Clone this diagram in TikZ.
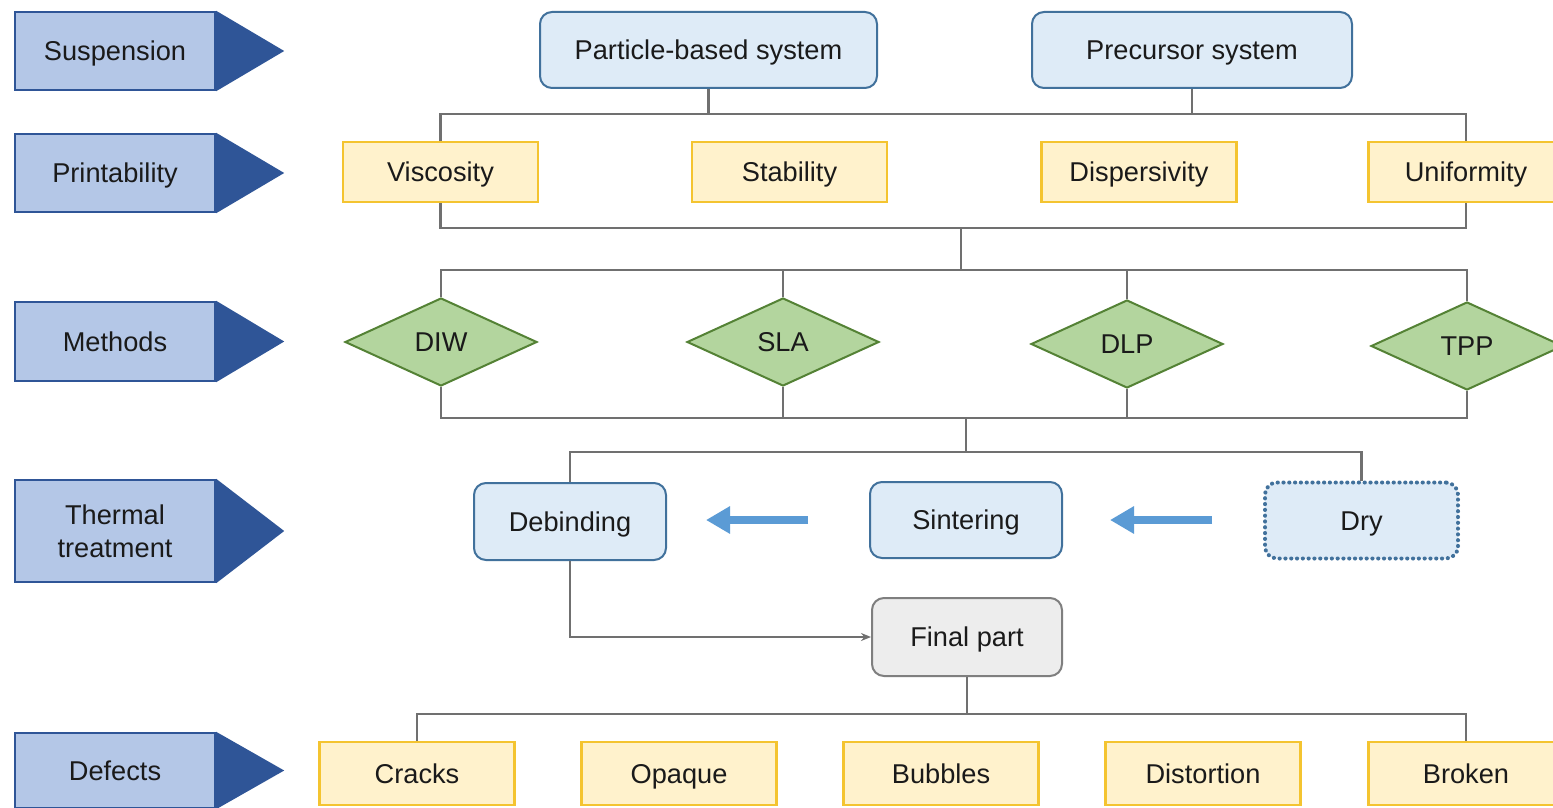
\documentclass[tikz,border=0pt]{standalone}
\usepackage{fontspec}
\setmainfont{Liberation Sans}
\usetikzlibrary{shapes.geometric,arrows.meta}
\definecolor{labfill}{HTML}{B4C7E7}
\definecolor{labdark}{HTML}{2F5597}
\definecolor{bluefill}{HTML}{DEEBF7}
\definecolor{blueline}{HTML}{41719C}
\definecolor{yelfill}{HTML}{FFF2CC}
\definecolor{yelline}{HTML}{F4C430}
\definecolor{grnfill}{HTML}{B3D59E}
\definecolor{grnline}{HTML}{548235}
\definecolor{grayfill}{HTML}{EDEDED}
\definecolor{grayline}{HTML}{7F7F7F}
\definecolor{connc}{HTML}{707070}
\definecolor{arrc}{HTML}{5B9BD5}
\definecolor{txt}{HTML}{1A1A1A}
\begin{document}
\begin{tikzpicture}[x=0.5pt,y=-0.5pt,
  every node/.style={font=\fontsize{13.6}{16.5}\selectfont, text=txt, align=center, text height=12.9pt, text depth=3pt},
  lab/.style={draw=labdark, fill=labfill, line width=1.2pt, minimum width=100pt, inner sep=0pt},
  bbox/.style={draw=blueline, fill=bluefill, line width=1pt, rounded corners=6pt, inner sep=0pt, minimum height=38pt},
  ybox/.style={draw=yelline, fill=yelfill, line width=1.1pt, inner sep=0pt, minimum width=97.5pt, minimum height=30pt},
  dbox/.style={ybox, minimum height=31.5pt},
  dia/.style={shape=diamond, draw=grnline, fill=grnfill, line width=1pt, inner sep=0pt, aspect=2.18, minimum width=96pt, minimum height=44pt},
  conn/.style={draw=connc, line width=1.2pt},
  bigarr/.style={draw=arrc, line width=4pt, -{Triangle[length=12pt,width=13pt]}}
]
\useasboundingbox (0,0) rectangle (1553,808);
\clip (0,0) rectangle (1553,808);
\fill[white] (0,0) rectangle (1553,808);

% left labels
\foreach \n/\t/\yc/\h in {ls/Suspension/51/39, lp/Printability/173/39, lm/Methods/341.5/39.5, ld/Defects/770.5/37.5}{
  \node[lab, minimum height=\h pt] (\n) at (115,\yc) {\t};
  \fill[labdark] (\n.north east) -- ([xshift=34pt]\n.east) -- (\n.south east) -- cycle;
}
\node[lab, minimum height=51pt, text height=, text depth=] (lt) at (115,531) {Thermal\\treatment};
\fill[labdark] (lt.north east) -- ([xshift=34pt]lt.east) -- (lt.south east) -- cycle;

% suspension
\node[bbox, minimum width=168.5pt] (part) at (708.5,50) {Particle-based system};
\node[bbox, minimum width=160pt] (prec) at (1192,50) {Precursor system};

% printability
\node[ybox] (visc) at (440.5,172) {Viscosity};
\node[ybox] (stab) at (789.5,172) {Stability};
\node[ybox] (disp) at (1139,172) {Dispersivity};
\node[ybox] (unif) at (1466,172) {Uniformity};

% methods
\node[dia] (diw) at (441,342) {DIW};
\node[dia] (sla) at (783,342) {SLA};
\node[dia] (dlp) at (1127,344) {DLP};
\node[dia] (tpp) at (1467,346) {TPP};

% thermal treatment
\node[bbox, minimum width=96pt, minimum height=38.5pt] (deb) at (570,521.5) {Debinding};
\node[bbox, minimum width=96pt] (sint) at (966,520) {Sintering};
\node[bbox, minimum width=96.5pt, draw=blueline, line width=2pt, dash pattern=on 0.1pt off 2.8pt, line cap=round] (dry) at (1361.5,520.5) {Dry};
\node[bbox, minimum width=95pt, minimum height=39pt, draw=grayline, fill=grayfill] (final) at (967,637) {Final part};

% defects
\node[dbox] (crk) at (417,773.5) {Cracks};
\node[dbox] (opq) at (679,773.5) {Opaque};
\node[dbox] (bub) at (941,773.5) {Bubbles};
\node[dbox] (dis) at (1203,773.5) {Distortion};
\node[dbox] (brk) at (1466,773.5) {Broken};

% bus coordinates
\coordinate (b1) at (0,114);
\coordinate (b2) at (0,228);
\coordinate (m2) at (961,228);
\coordinate (m3) at (961,270);
\coordinate (b3) at (0,270);
\coordinate (b4) at (0,418);
\coordinate (m4) at (966,418);
\coordinate (m5) at (966,452);
\coordinate (b5) at (0,452);
\coordinate (b6) at (0,714);

% connectors
\draw[conn] (visc.north) -- (visc.north |- b1) -| (unif.north);
\draw[conn] (part.south) -- (part.south |- b1);
\draw[conn] (prec.south) -- (prec.south |- b1);
\draw[conn] (visc.south) -- (visc.south |- b2) -| (unif.south);
\draw[conn] (m2) -- (m3);
\draw[conn] (diw.north) -- (diw.north |- b3) -| (tpp.north);
\draw[conn] (sla.north) -- (sla.north |- b3);
\draw[conn] (dlp.north) -- (dlp.north |- b3);
\draw[conn] (diw.south) -- (diw.south |- b4) -| (tpp.south);
\draw[conn] (sla.south) -- (sla.south |- b4);
\draw[conn] (dlp.south) -- (dlp.south |- b4);
\draw[conn] (m4) -- (m5);
\draw[conn] (deb.north) -- (deb.north |- b5) -| (dry.north);
\draw[conn, -{Stealth[length=5pt,width=4pt]}] (deb.south) |- (final.west);
\draw[conn] (final.south) -- (final.south |- b6);
\draw[conn] (crk.north) -- (crk.north |- b6) -| (brk.north);

% blue arrows
\coordinate (a1s) at (808,520);
\coordinate (a1e) at (706,520);
\coordinate (a2s) at (1212,520);
\coordinate (a2e) at (1110,520);
\draw[bigarr] (a1s) -- (a1e);
\draw[bigarr] (a2s) -- (a2e);
\end{tikzpicture}
\end{document}
